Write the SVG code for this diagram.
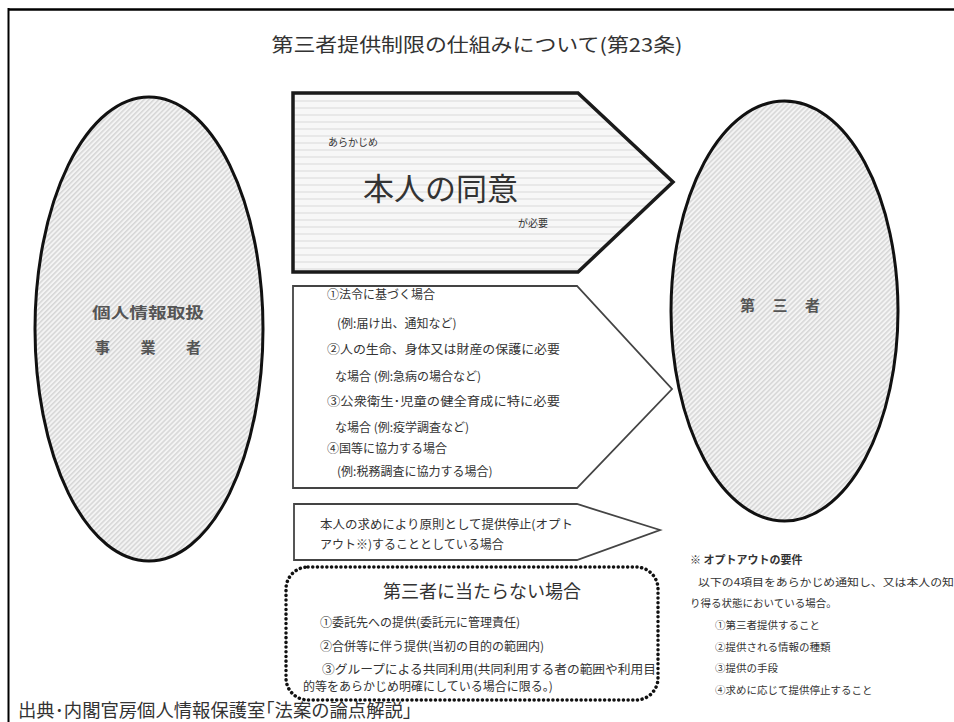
<svg xmlns="http://www.w3.org/2000/svg" width="954" height="722" viewBox="0 0 954 722">
<style>
text{font-family:"Noto Sans CJK JP","Noto Sans CJK SC",sans-serif;fill:#333}
.sm{font-size:12px}
.note{font-size:10.5px}
.lbl{font-size:15px;fill:#555;font-weight:bold}
.ell{fill:url(#hatch);stroke:#111;stroke-width:3}
</style>
<defs>
<pattern id="hatch" patternUnits="userSpaceOnUse" width="3.5" height="3.5" patternTransform="rotate(45)">
<rect width="3.5" height="3.5" fill="#f4f4f4"/>
<line x1="0.8" y1="0" x2="0.8" y2="3.5" stroke="#d2d2d2" stroke-width="1.3"/>
</pattern>
<pattern id="hstripe" patternUnits="userSpaceOnUse" width="8" height="7">
<rect width="8" height="7" fill="#f7f7f7"/>
<line x1="0" y1="3" x2="8" y2="3" stroke="#e4e4e4" stroke-width="1.5"/>
</pattern>
</defs>
<rect width="954" height="722" fill="#fff"/>
<g id="frame">
<line x1="8" y1="9.5" x2="954" y2="9.5" stroke="#000" stroke-width="2.5"/>
<line x1="8.5" y1="8" x2="8.5" y2="722" stroke="#000" stroke-width="2"/>
</g>
<text x="477" y="52" text-anchor="middle" font-size="19" fill="#222" textLength="411" lengthAdjust="spacingAndGlyphs">第三者提供制限の仕組みについて(第23条)</text>
<g id="node-business">
<ellipse class="ell" cx="149" cy="329" rx="114" ry="232"/>
<text class="lbl" x="148" y="318" text-anchor="middle" textLength="112" lengthAdjust="spacingAndGlyphs">個人情報取扱</text>
<text class="lbl" x="148" y="353" text-anchor="middle" textLength="106" lengthAdjust="spacing">事業者</text>
</g>
<g id="node-third">
<ellipse class="ell" cx="784.5" cy="311" rx="113.5" ry="210"/>
<text class="lbl" x="780" y="311" text-anchor="middle" textLength="80" lengthAdjust="spacing">第三者</text>
</g>
<g id="connectors">
<g id="arrow-consent">
<path d="M293,93 H578 L673,182 L578,272 H293 Z" fill="url(#hstripe)" stroke="#1a1a1a" stroke-width="3.5" stroke-linejoin="miter"/>
<text x="328" y="146" font-size="10">あらかじめ</text>
<text x="363" y="200" font-size="31" fill="#222">本人の同意</text>
<text x="518" y="227" font-size="10">が必要</text>
</g>
<g id="arrow-exceptions">
<path d="M293,286 H577 L672,389 L577,488 H293 Z" fill="#fff" stroke="#444" stroke-width="1.8"/>
<text class="sm" x="327" y="299">①法令に基づく場合</text>
<text class="sm" x="337" y="328">(例:届け出、通知など)</text>
<text class="sm" x="327" y="354" textLength="233" lengthAdjust="spacingAndGlyphs">②人の生命、身体又は財産の保護に必要</text>
<text class="sm" x="335" y="381">な場合 (例:急病の場合など)</text>
<text class="sm" x="327" y="406" textLength="233" lengthAdjust="spacingAndGlyphs">③公衆衛生･児童の健全育成に特に必要</text>
<text class="sm" x="335" y="432">な場合 (例:疫学調査など)</text>
<text class="sm" x="327" y="453">④国等に協力する場合</text>
<text class="sm" x="337" y="476">(例:税務調査に協力する場合)</text>
</g>
<g id="arrow-optout">
<path d="M294,504 H577 L660,530 L577,560 H294 Z" fill="#fff" stroke="#444" stroke-width="1.8"/>
<text class="sm" x="320" y="529" textLength="253" lengthAdjust="spacingAndGlyphs">本人の求めにより原則として提供停止(オプト</text>
<text class="sm" x="320" y="549">アウト※)することとしている場合</text>
</g>
</g>
<g id="node-not-third">
<rect x="286" y="567" width="372" height="133" rx="22" fill="none" stroke="#111" stroke-width="3.5" stroke-dasharray="0.1 4.6" stroke-linecap="round"/>
<text x="482" y="598" text-anchor="middle" font-size="18">第三者に当たらない場合</text>
<text class="sm" x="320" y="627">①委託先への提供(委託元に管理責任)</text>
<text class="sm" x="320" y="651">②合併等に伴う提供(当初の目的の範囲内)</text>
<text class="sm" x="322" y="674" textLength="334" lengthAdjust="spacingAndGlyphs">③グループによる共同利用(共同利用する者の範囲や利用目</text>
<text class="sm" x="303" y="691">的等をあらかじめ明確にしている場合に限る。)</text>
</g>
<g id="notes">
<text x="690" y="564" font-size="11" font-weight="bold" fill="#444">※ オプトアウトの要件</text>
<text class="note" x="698" y="586" textLength="256" lengthAdjust="spacingAndGlyphs">以下の4項目をあらかじめ通知し、又は本人の知</text>
<text class="note" x="690" y="607">り得る状態においている場合。</text>
<text class="note" x="715" y="629">①第三者提供すること</text>
<text class="note" x="715" y="651">②提供される情報の種類</text>
<text class="note" x="715" y="672">③提供の手段</text>
<text class="note" x="715" y="694">④求めに応じて提供停止すること</text>
</g>
<text x="18" y="717" font-size="18" fill="#111" textLength="394" lengthAdjust="spacingAndGlyphs">出典･内閣官房個人情報保護室｢法案の論点解説｣</text>
</svg>
